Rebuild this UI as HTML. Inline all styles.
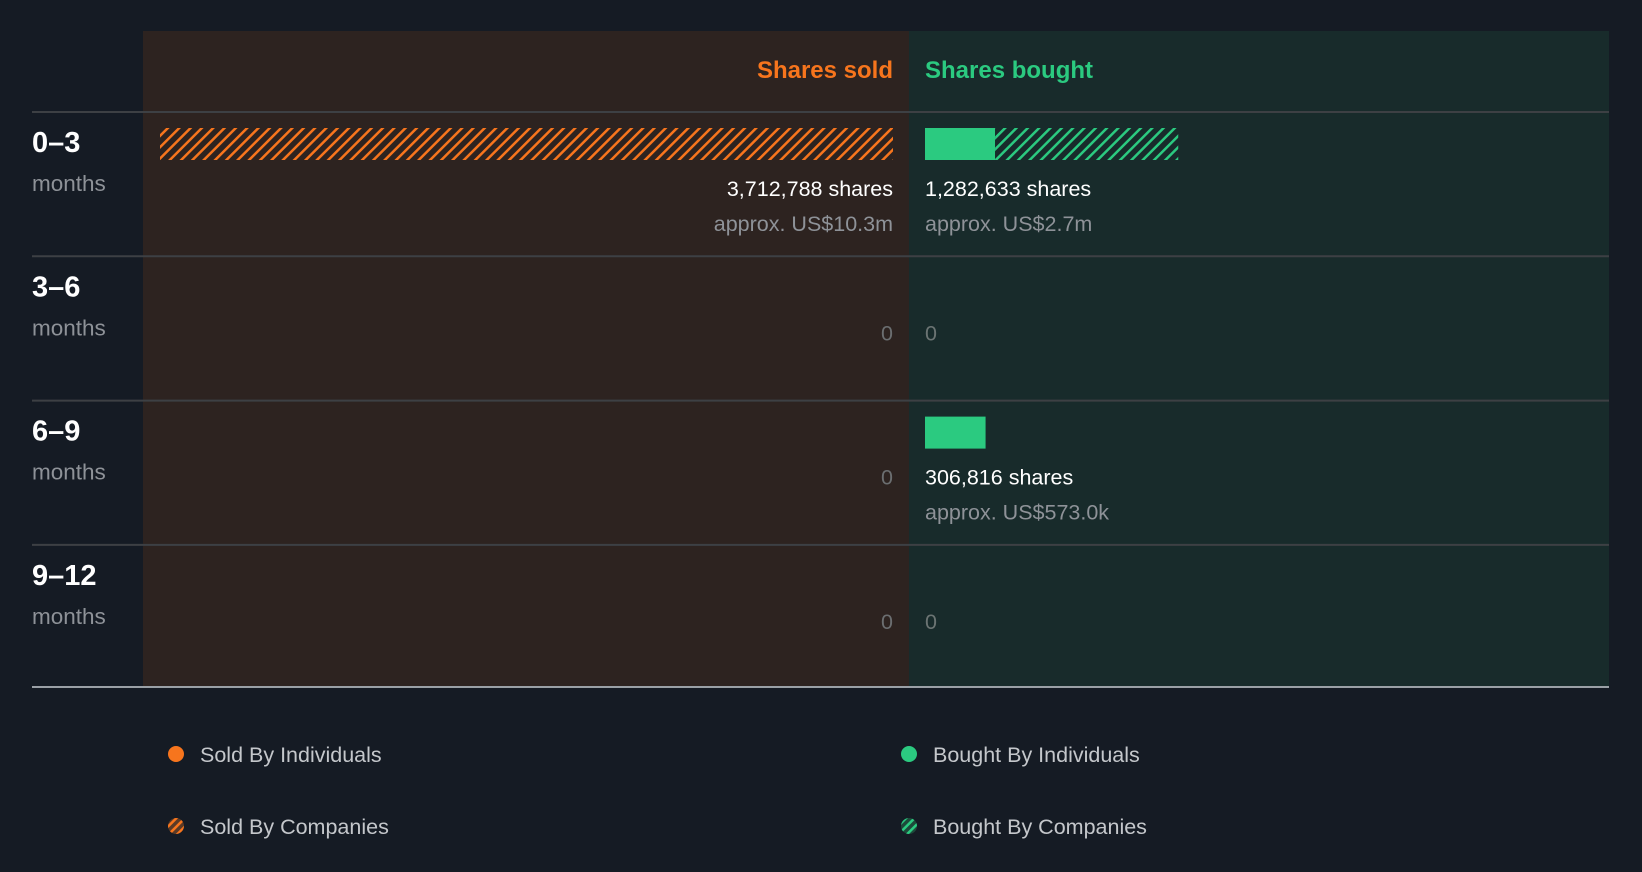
<!DOCTYPE html>
<html><head><meta charset="utf-8"><style>
html,body{margin:0;padding:0;background:#151b24;width:1642px;height:872px;overflow:hidden}
svg{display:block}
text{font-family:"Liberation Sans",sans-serif}
</style></head><body>
<svg id="chart" width="1642" height="872" xmlns="http://www.w3.org/2000/svg">
<defs>
<pattern id="hatchO" patternUnits="userSpaceOnUse" width="8" height="8" patternTransform="rotate(45)">
<rect width="8" height="8" fill="#2d2320"/><rect width="2.5" height="8" fill="#f7751d"/></pattern>
<pattern id="hatchG" patternUnits="userSpaceOnUse" width="8" height="8" patternTransform="rotate(45)">
<rect width="8" height="8" fill="#182b2b"/><rect width="2.5" height="8" fill="#2bca80"/></pattern>
<pattern id="hatchOL" patternUnits="userSpaceOnUse" width="6" height="6" patternTransform="rotate(45)">
<rect width="6" height="6" fill="#5a3a26"/><rect width="2.5" height="6" fill="#f7751d"/></pattern>
<pattern id="hatchGL" patternUnits="userSpaceOnUse" width="6" height="6" patternTransform="rotate(45)">
<rect width="6" height="6" fill="#1d4a3a"/><rect width="2.5" height="6" fill="#2bca80"/></pattern>
</defs>
<rect x="143" y="31" width="766" height="656" fill="#2d2320"/>
<rect x="909" y="31" width="700" height="656" fill="#182b2b"/>
<text x="893" y="78" text-anchor="end" font-size="24" font-weight="bold" fill="#f7751d">Shares sold</text>
<text x="925" y="78" font-size="24" font-weight="bold" fill="#2bca80">Shares bought</text>
<g id="rows"></g>
<line x1="32" y1="687" x2="1609" y2="687" stroke="#9aa0a6" stroke-width="2"/>
<g>
<circle cx="176" cy="754" r="8" fill="#f7751d"/>
<text x="200" y="762" font-size="21.5" fill="#c4c7cb">Sold By Individuals</text>
<circle cx="909" cy="754" r="8" fill="#2bca80"/>
<text x="933" y="762" font-size="21.5" fill="#c4c7cb">Bought By Individuals</text>
<circle cx="176" cy="826" r="8" fill="url(#hatchOL)"/>
<text x="200" y="834" font-size="21.5" fill="#c4c7cb">Sold By Companies</text>
<circle cx="909" cy="826" r="8" fill="url(#hatchGL)"/>
<text x="933" y="834" font-size="21.5" fill="#c4c7cb">Bought By Companies</text>
</g>
</svg>
<script>
const periods = ["0–3","3–6","6–9","9–12"];
const soldIndividuals = [0,0,0,0];
const soldCompanies = [3712788,0,0,0];
const boughtIndividuals = [355000,0,306816,0];
const boughtCompanies = [927633,0,0,0];
const soldValue = ["approx. US$10.3m","","",""];
const boughtValue = ["approx. US$2.7m","","approx. US$573.0k",""];

const NS="http://www.w3.org/2000/svg";
const g=document.getElementById('rows');
const maxV=Math.max(...periods.map((p,i)=>Math.max(soldIndividuals[i]+soldCompanies[i],boughtIndividuals[i]+boughtCompanies[i])));
const scale=v=>v/maxV*733;
const rowY=i=>112+i*144.3;
const fmt=n=>n.toLocaleString('en-US');
function mk(tag,attrs,txt){const e=document.createElementNS(NS,tag);for(const k in attrs)e.setAttribute(k,attrs[k]);if(txt!==undefined)e.textContent=txt;g.appendChild(e);return e;}
periods.forEach((p,i)=>{
  const y=rowY(i);
  let e=mk('line',{x1:32,x2:1609,y1:y,y2:y,stroke:'#3d4044','stroke-width':2});
  
  
  e=mk('text',{x:32,y:y+40,'font-size':29,'font-weight':'bold',fill:'#ffffff'},p);
  
  
  e=mk('text',{x:32,y:y+79,'font-size':22.5,fill:'#8e9298'},'months');
  
  
  const sTot=soldIndividuals[i]+soldCompanies[i];
  const bTot=boughtIndividuals[i]+boughtCompanies[i];
  const by=y+16,bh=32;
  if(sTot>0){
    const wi=scale(soldIndividuals[i]),wc=scale(soldCompanies[i]);
    e=mk('rect',{x:893-wi,y:by,width:wi,height:bh,fill:'#f7751d'});
    
    
    e=mk('rect',{x:893-wi-wc,y:by,width:wc,height:bh,fill:'url(#hatchO)'});
    
    
    e=mk('text',{x:893,y:y+84,'text-anchor':'end','font-size':21.5,fill:'#ffffff'},fmt(sTot)+' shares');
    
    
    e=mk('text',{x:893,y:y+119,'text-anchor':'end','font-size':21.5,fill:'#8e9298'},soldValue[i]);
    
    
  } else {
    e=mk('text',{x:893,y:y+84,'text-anchor':'end','font-size':21.5,fill:'#6b6e70'},'0');
    
    
  }
  if(bTot>0){
    const wi=scale(boughtIndividuals[i]),wc=scale(boughtCompanies[i]);
    e=mk('rect',{x:925,y:by,width:wi,height:bh,fill:'#2bca80'});
    
    
    if(wc>0){
    e=mk('rect',{x:925+wi,y:by,width:wc,height:bh,fill:'url(#hatchG)'});
    
    
    }
    e=mk('text',{x:925,y:y+84,'font-size':21.5,fill:'#ffffff'},fmt(bTot)+' shares');
    
    
    e=mk('text',{x:925,y:y+119,'font-size':21.5,fill:'#8e9298'},boughtValue[i]);
    
    
  } else {
    e=mk('text',{x:925,y:y+84,'font-size':21.5,fill:'#6b7473'},'0');
    
    
  }
});
</script>
</body></html>
